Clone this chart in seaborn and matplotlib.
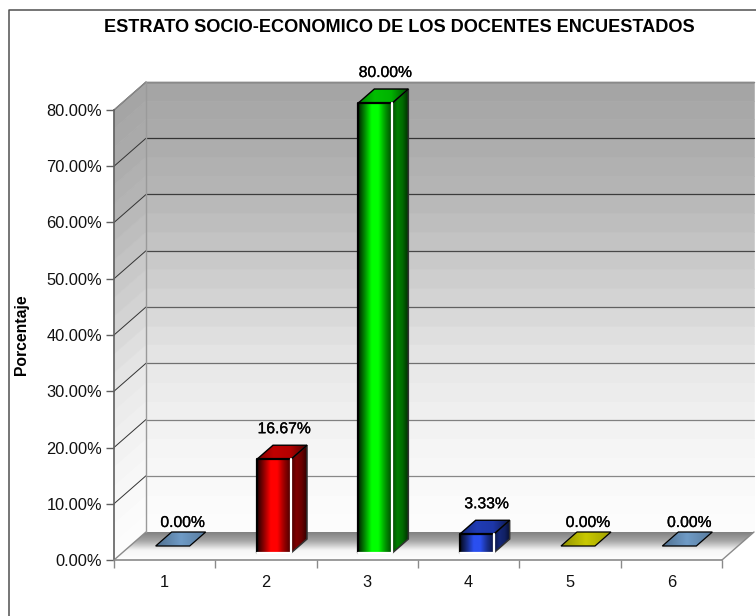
import numpy as np
import pandas as pd
import seaborn as sns
import matplotlib
matplotlib.use("Agg")
import matplotlib.pyplot as plt
import matplotlib.patheffects as pe
from matplotlib.colors import LinearSegmentedColormap
from matplotlib.lines import Line2D
from matplotlib.patches import Polygon

categories = ["1", "2", "3", "4", "5", "6"]
values = [0.0, 16.67, 80.0, 3.33, 0.0, 0.0]
labels = ["0.00%", "16.67%", "80.00%", "3.33%", "0.00%", "0.00%"]
front_colors = ["#6f9bc6", "#ff0000", "#00ff00", "#2a4ff0", "#c9c900", "#6f9bc6"]
title = "ESTRATO SOCIO-ECONOMICO DE LOS DOCENTES ENCUESTADOS"
ylabel = "Porcentaje"
wall_levels = [0, 10, 20, 30, 40, 50, 60, 70, 80]
wall_grays = [0xFD, 0xF8, 0xF1, 0xE7, 0xD6, 0xC6, 0xB6, 0xAB, 0xA4]
grid_grays = [0x88, 0x88, 0x80, 0x70, 0x60, 0x48, 0x3c, 0x33, 0x33]

sns.set_theme(style="white")
plt.rcParams["font.family"] = ["Liberation Sans", "DejaVu Sans"]

W, H = 756, 616
fig = plt.figure(figsize=(W / 100, H / 100), dpi=100, facecolor="white")
L, R, T, B = 114, 722, 110, 560
ax = fig.add_axes([L / W, 1 - B / H, (R - L) / W, (B - T) / H])
ax.patch.set_alpha(0)

# outer frame: only the top and left edges are visible
frame_x = 8.5 / W
frame_y = 1 - 9.5 / H
fig.add_artist(Line2D([frame_x, frame_x, 1], [0, frame_y, frame_y], color="#505050", lw=1.1,
                      transform=fig.transFigure))

df = pd.DataFrame({"cat": categories, "val": values})
PX = (R - L) / 6.0            # pixels per category
PY = (B - T) / 80.0           # pixels per percent
BAR_W = 34 / PX
sns.barplot(data=df, x="cat", y="val", hue="cat", palette=front_colors, legend=False,
            width=BAR_W, ax=ax, saturation=1, zorder=5)
ax.set_autoscale_on(False)
ax.set_xlim(-0.5, 5.5)
ax.set_ylim(0, 80)

DX = 32 / PX                  # full chart depth in data units
DY = 28 / PY


def pt(x, y, d=0.0):
    return (x + d * DX, y + d * DY)


def shade(color, f):
    c = np.array(matplotlib.colors.to_rgb(color))
    return tuple(np.clip(c * f, 0, 1))


def grad_poly(verts, stops, z, edge="black", lw=1.0, horizontal=True):
    verts = np.array(verts)
    poly = Polygon(verts, closed=True, facecolor="none", edgecolor=edge, lw=lw,
                   zorder=z + 0.01, clip_on=False)
    ax.add_patch(poly)
    cmap = LinearSegmentedColormap.from_list("g", stops)
    g = np.linspace(0, 1, 128)
    arr = g[None, :] if horizontal else g[:, None]
    im = ax.imshow(arr, cmap=cmap, vmin=0, vmax=1, aspect="auto", origin="lower", zorder=z,
                   extent=(verts[:, 0].min(), verts[:, 0].max(), verts[:, 1].min(), verts[:, 1].max()),
                   interpolation="bilinear")
    clip = Polygon(verts, closed=True, transform=ax.transData)
    im.set_clip_path(clip)
    im.set_clip_box(fig.bbox)


# ---- walls ----
x0, x1 = -0.5, 5.5
fine = np.linspace(0, 80, 25)
for s0, s1 in zip(fine[:-1], fine[1:]):
    v = np.interp((s0 + s1) / 2, wall_levels, wall_grays) / 255
    ax.fill(*zip(pt(x0, s0, 1), pt(x1, s0, 1), pt(x1, s1, 1), pt(x0, s1, 1)),
            color=(v, v, v), lw=0.4, zorder=0.2, clip_on=False)
    ax.fill(*zip(pt(x0, s0, 0), pt(x0, s0, 1), pt(x0, s1, 1), pt(x0, s1, 0)),
            color=(v, v, v), lw=0.4, zorder=0.2, clip_on=False)

# ---- floor ----
grad_poly([pt(x0, 0), pt(x1, 0), pt(x1, 0, 1), pt(x0, 0, 1)],
          ["#ffffff", "#f6f6f6", "#a6a6a6", "#7c7c7c"], 0.4, edge="none", horizontal=False)

# ---- grid lines ----
for t, g in zip(wall_levels[1:], grid_grays[1:]):
    c = (g / 255, g / 255, g / 255)
    ax.plot(*zip(pt(x0, t, 1), pt(x1, t, 1)), color=c, lw=0.9, zorder=0.6, clip_on=False)
    ax.plot(*zip(pt(x0, t), pt(x0, t, 1)), color="#333333", lw=0.7, zorder=0.6, clip_on=False)

# ---- frame edges ----
edge_c = "#8a8a8a"
ax.plot(*zip(pt(x0, 0), pt(x0, 0, 1)), color=edge_c, lw=1, zorder=0.7, clip_on=False)
ax.plot(*zip(pt(x1, 0), pt(x1, 0, 1)), color=edge_c, lw=1, zorder=0.7, clip_on=False)
ax.plot(*zip(pt(x0, 80, 1), pt(x1, 80, 1)), color=edge_c, lw=1, zorder=0.7, clip_on=False)
ax.plot(*zip(pt(x0, 80), pt(x0, 80, 1)), color=edge_c, lw=1, zorder=0.7, clip_on=False)
ax.plot(*zip(pt(x0, 0, 1), pt(x0, 80, 1)), color="#9a9a9a", lw=1, zorder=0.7, clip_on=False)

# ---- bars: seaborn patches pushed into the chart depth, then given 3D faces ----
d0, d1 = 0.25, 0.75
for p, col, val, lab in zip(ax.patches, front_colors, values, labels):
    left = p.get_x() + d0 * DX
    right = left + p.get_width()
    base = d0 * DY
    p.set_x(left)
    p.set_y(base)
    p.set_clip_on(False)
    p.set_facecolor("none")
    p.set_edgecolor("none")
    top = base + val
    dd = d1 - d0
    if val > 0:
        # front face with a cylindrical sheen
        grad_poly([(left, base), (right, base), (right, top), (left, top)],
                  [shade(col, 0.12), shade(col, 0.55), col, col, shade(col, 0.6), shade(col, 0.28)],
                  6, edge="none")
        ax.plot([left, left, right], [base, top, top], color="black", lw=1.6, zorder=6.5, clip_on=False)
        ax.plot([left, right, right], [base, base, top], color="white", lw=1.6, zorder=6.5, clip_on=False)
        # side face
        grad_poly([(right, base), (right + dd * DX, base + dd * DY),
                   (right + dd * DX, top + dd * DY), (right, top)],
                  [shade(col, 0.28), shade(col, 0.5), shade(col, 0.42), shade(col, 0.2)],
                  6, edge="#303030", lw=1.1)
        # top face
        grad_poly([(left, top), (right, top), (right + dd * DX, top + dd * DY), (left + dd * DX, top + dd * DY)],
                  [shade(col, 0.5), shade(col, 0.75), shade(col, 0.7), shade(col, 0.3)],
                  6, edge="black", lw=1.0)
    else:
        grad_poly([(left, top + base), (right, top + base),
                   (right + dd * DX, top + base + dd * DY), (left + dd * DX, top + base + dd * DY)],
                  [shade(col, 0.72), shade(col, 1.0), shade(col, 0.8)], 6, edge="black", lw=0.9)
    cx = (left + right) / 2 + dd * DX / 2
    ax.annotate(lab, xy=(cx, top + dd * DY), xytext=(1.5, 6.5), textcoords="offset points",
                ha="center", va="bottom", fontsize=11.3, color="black", zorder=8,
                annotation_clip=False,
                path_effects=[pe.withStroke(linewidth=0.2, foreground="black")])

# ---- axes ----
sns.despine(ax=ax, left=False, bottom=False, top=True, right=True)
ax.spines["left"].set_color("#606060")
ax.spines["left"].set_linewidth(1.2)
ax.spines["bottom"].set_color(edge_c)
ax.spines["bottom"].set_linewidth(1.2)
for s in ("left", "bottom"):
    ax.spines[s].set_zorder(0.8)
ax.set_yticks(wall_levels)
ax.set_yticklabels([f"{t:.2f}%" for t in wall_levels], fontsize=11.8, color="#111111")
ax.set_xticks(np.arange(-0.5, 6, 1))
ax.set_xticklabels([])
ax.set_xticks(np.arange(6), labels=categories, minor=True)
ax.tick_params(axis="x", which="major", length=6, width=1, color=edge_c, direction="out", bottom=True)
ax.tick_params(axis="x", which="minor", length=0, labelsize=11.8, labelcolor="#111111", pad=11, bottom=True)
ax.tick_params(axis="y", length=6, width=1, color="#606060", direction="out", left=True, pad=2.5)
ax.set_xlabel("")
ax.set_ylabel(ylabel, fontsize=11.3, fontweight="bold", color="black")
ax.yaxis.set_label_coords((29 - L) / (R - L), (B - 335) / (B - T))

fig.text(399 / W, 1 - 28 / H, title, ha="center", va="center", fontsize=13.1, fontweight="bold", color="black")

fig.savefig("out.png", dpi=100, facecolor="white")
